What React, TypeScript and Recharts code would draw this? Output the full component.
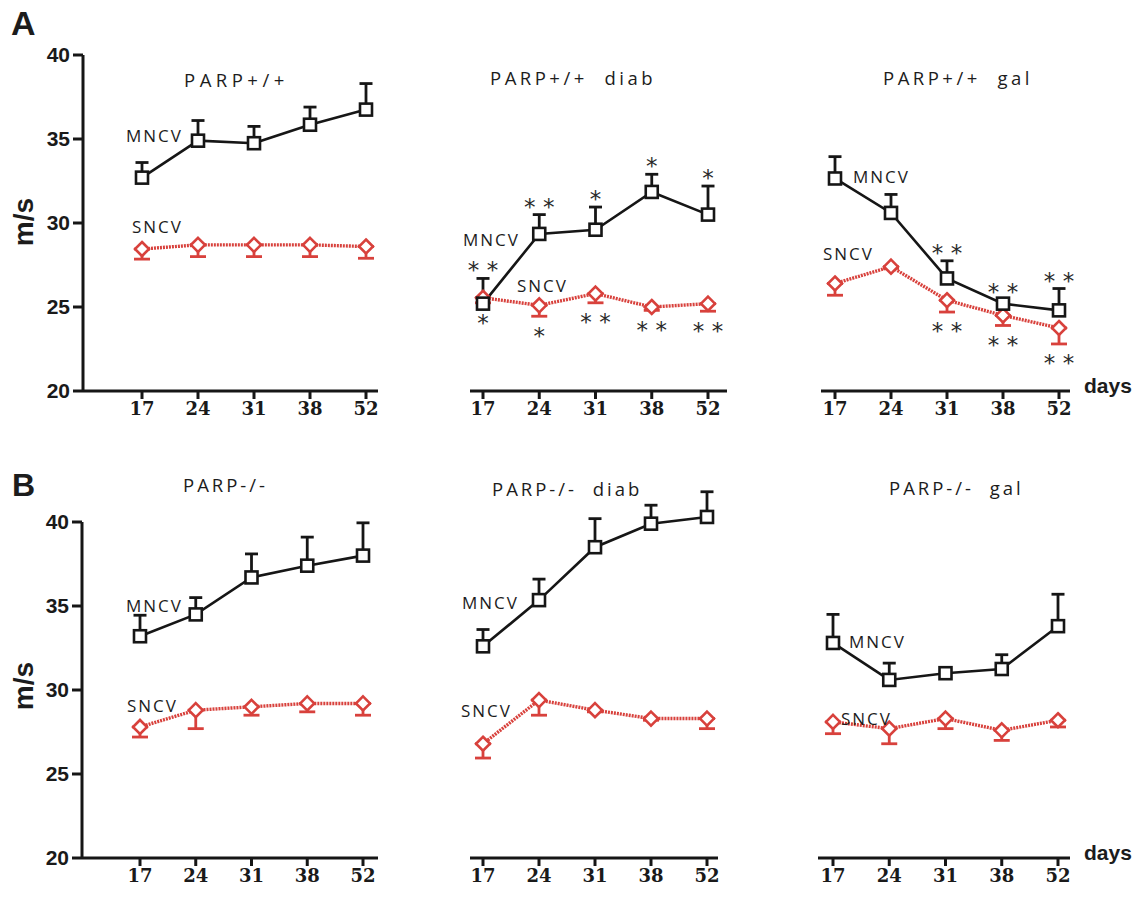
import React from 'react';
import { LineChart, Line, XAxis, YAxis, ErrorBar, LabelList } from 'recharts';

// ---------- data ----------
const days = ['17', '24', '31', '38', '52'];
const yTicks = [20, 25, 30, 35, 40];

// A: PARP+/+
const a1Mncv = [32.7, 34.9, 34.75, 35.85, 36.75];
const a1MncvErr = [0.9, 1.2, 1.0, 1.05, 1.55];
const a1Sncv = [28.45, 28.7, 28.7, 28.7, 28.6];
const a1SncvErr = [0.6, 0.7, 0.7, 0.7, 0.7];

// A: PARP+/+ diab
const a2Mncv = [25.2, 29.35, 29.6, 31.85, 30.5];
const a2MncvErr = [1.5, 1.15, 1.35, 1.05, 1.7];
const a2Sncv = [25.55, 25.1, 25.8, 25.0, 25.2];
const a2SncvErr = [0.3, 0.65, 0.55, 0.2, 0.45];
const a2MncvSig = ['* *', '* *', '*', '*', '*'];
const a2SncvSig = ['*', '*', '* *', '* *', '* *'];

// A: PARP+/+ gal
const a3Mncv = [32.65, 30.6, 26.7, 25.2, 24.8];
const a3MncvErr = [1.3, 1.1, 1.05, 0.2, 1.3];
const a3Sncv = [26.4, 27.4, 25.4, 24.5, 23.75];
const a3SncvErr = [0.7, 0.1, 0.7, 0.6, 0.95];
const a3MncvSig = ['', '', '* *', '* *', '* *'];
const a3SncvSig = ['', '', '* *', '* *', '* *'];

// B: PARP-/-
const b1Mncv = [33.2, 34.5, 36.7, 37.4, 38.0];
const b1MncvErr = [1.25, 1.0, 1.4, 1.7, 1.95];
const b1Sncv = [27.8, 28.8, 29.0, 29.2, 29.2];
const b1SncvErr = [0.6, 1.1, 0.5, 0.5, 0.7];

// B: PARP-/- diab
const b2Mncv = [32.6, 35.35, 38.5, 39.9, 40.3];
const b2MncvErr = [1.0, 1.25, 1.7, 1.1, 1.5];
const b2Sncv = [26.8, 29.4, 28.8, 28.3, 28.3];
const b2SncvErr = [0.85, 0.9, 0.1, 0.1, 0.6];

// B: PARP-/- gal
const b3Mncv = [32.8, 30.6, 31.0, 31.25, 33.8];
const b3MncvErr = [1.7, 1.0, 0.25, 0.85, 1.9];
const b3Sncv = [28.1, 27.7, 28.3, 27.6, 28.2];
const b3SncvErr = [0.7, 0.9, 0.6, 0.6, 0.4];

const noSig = ['', '', '', '', ''];

// ---------- styles / layout ----------
const BLACK = '#161616';
const RED = '#d8413c';
const PXU = 16.8; // px per m/s
const PLOT_H = 336; // 20..40

function buildRows(m: number[], me: number[], s: number[], se: number[], ms: string[], ss: string[]) {
  return days.map((day, i) => ({
    day,
    m: m[i],
    s: s[i],
    mErr: [0, me[i]],
    sErr: [se[i], 0],
    mTop: m[i] + me[i],
    sLow: Math.min(m[i], s[i] - se[i]),
    mSig: ms[i],
    sSig: ss[i],
  }));
}

const panels = [
  { id: 'a1', data: buildRows(a1Mncv, a1MncvErr, a1Sncv, a1SncvErr, noSig, noSig), left: 0, top: 0, width: 380, height: 440, y40: 55, axisL: 83, axisR: 378, padL: 59, padR: 12, showY: true },
  { id: 'a2', data: buildRows(a2Mncv, a2MncvErr, a2Sncv, a2SncvErr, a2MncvSig, a2SncvSig), left: 380, top: 0, width: 380, height: 440, y40: 55, axisL: 470, axisR: 727, padL: 13, padR: 19, showY: false },
  { id: 'a3', data: buildRows(a3Mncv, a3MncvErr, a3Sncv, a3SncvErr, a3MncvSig, a3SncvSig), left: 760, top: 0, width: 378, height: 440, y40: 55, axisL: 821, axisR: 1070, padL: 14, padR: 11, showY: false },
  { id: 'b1', data: buildRows(b1Mncv, b1MncvErr, b1Sncv, b1SncvErr, noSig, noSig), left: 0, top: 460, width: 380, height: 438, y40: 522, axisL: 82, axisR: 378, padL: 58, padR: 15, showY: true },
  { id: 'b2', data: buildRows(b2Mncv, b2MncvErr, b2Sncv, b2SncvErr, noSig, noSig), left: 380, top: 460, width: 380, height: 438, y40: 522, axisL: 470, axisR: 718, padL: 13, padR: 11, showY: false },
  { id: 'b3', data: buildRows(b3Mncv, b3MncvErr, b3Sncv, b3SncvErr, noSig, noSig), left: 760, top: 460, width: 378, height: 438, y40: 522, axisL: 818, axisR: 1070, padL: 15, padR: 12, showY: false },
];

const TITLE = { size: 18.5, weight: 400, family: 'Open Sans', ls: 3.5 };
const SER = { size: 17, weight: 400, family: 'Open Sans', ls: 2 };

const texts = [
  { t: 'A', x: 11, y: 35, size: 34, weight: 700, family: 'Liberation Sans', ls: 0 },
  { t: 'B', x: 12, y: 496, size: 32, weight: 700, family: 'Liberation Sans', ls: 0 },
  { t: 'PARP+/+', x: 184, y: 87, ...TITLE, ls: 4.5 },
  { t: 'PARP+/+  diab', x: 490, y: 85, ...TITLE },
  { t: 'PARP+/+  gal', x: 883, y: 85, ...TITLE },
  { t: 'PARP-/-', x: 183, y: 492, ...TITLE, ls: 3 },
  { t: 'PARP-/-  diab', x: 492, y: 496, ...TITLE, ls: 3 },
  { t: 'PARP-/-  gal', x: 889, y: 495, ...TITLE, ls: 3 },
  { t: 'MNCV', x: 126, y: 142, ...SER },
  { t: 'SNCV', x: 132, y: 233, ...SER },
  { t: 'MNCV', x: 463, y: 246, ...SER },
  { t: 'SNCV', x: 517, y: 292, ...SER },
  { t: 'MNCV', x: 853, y: 183, ...SER },
  { t: 'SNCV', x: 823, y: 260, ...SER },
  { t: 'MNCV', x: 126, y: 612, ...SER },
  { t: 'SNCV', x: 127, y: 712, ...SER },
  { t: 'MNCV', x: 462, y: 609, ...SER },
  { t: 'SNCV', x: 461, y: 717, ...SER },
  { t: 'MNCV', x: 849, y: 648, ...SER },
  { t: 'SNCV', x: 841, y: 725, ...SER },
  { t: 'days', x: 1084, y: 393, size: 21, weight: 700, family: 'Liberation Sans', ls: 0 },
  { t: 'days', x: 1084, y: 860, size: 21, weight: 700, family: 'Liberation Sans', ls: 0 },
];

const yLabels = [
  { x: 33, y: 222 },
  { x: 33, y: 686 },
];

// ---------- markers ----------
const squareDot = (p: any) => {
  if (p == null || p.cx == null || p.cy == null) return <g key={`sq-${p?.index}`} />;
  return (
    <rect key={`sq-${p.index}`} x={p.cx - 6} y={p.cy - 6} width={12} height={12}
      fill="#fff" stroke={BLACK} strokeWidth={2.6} />
  );
};

const diamondDot = (p: any) => {
  if (p == null || p.cx == null || p.cy == null) return <g key={`dm-${p?.index}`} />;
  const r = 7;
  return (
    <path key={`dm-${p.index}`}
      d={`M${p.cx},${p.cy - r} L${p.cx + r},${p.cy} L${p.cx},${p.cy + r} L${p.cx - r},${p.cy} Z`}
      fill="#fff" stroke={RED} strokeWidth={2.6} />
  );
};

const starStyle = { fill: '#2a2a2a', fontSize: 23, fontFamily: 'DejaVu Sans' };

function Panel({ p }: { p: any }) {
  const yMax = p.showY ? 40 : 42.5;
  const extra = (yMax - 40) * PXU;
  const plotTop = p.y40 - extra;
  const plotH = PLOT_H + extra;
  const yAxisW = p.showY ? 60 : 0;
  const margin = {
    top: plotTop - p.top,
    left: p.axisL - p.left - yAxisW,
    right: p.left + p.width - p.axisR,
    bottom: p.height - (plotTop - p.top) - plotH - 30,
  };
  return (
    <div style={{ position: 'absolute', left: p.left, top: p.top }}>
      <LineChart width={p.width} height={p.height} data={p.data} margin={margin}>
        <XAxis
          dataKey="day"
          interval={0}
          height={30}
          padding={{ left: p.padL, right: p.padR }}
          axisLine={{ stroke: BLACK, strokeWidth: 3 }}
          tickLine={{ stroke: BLACK, strokeWidth: 3 }}
          tickSize={8}
          tickMargin={3}
          tick={{ fill: '#1a1a1a', fontSize: 18, fontWeight: 700, fontFamily: 'DejaVu Serif' }}
        />
        {p.showY ? (
          <YAxis
            type="number"
            domain={[20, 40]}
            ticks={yTicks}
            interval={0}
            width={60}
            axisLine={{ stroke: BLACK, strokeWidth: 3 }}
            tickLine={{ stroke: BLACK, strokeWidth: 3 }}
            tickSize={10}
            tickMargin={3}
            tick={{ fill: '#1a1a1a', fontSize: 21, fontWeight: 700, fontFamily: 'Liberation Sans' }}
          />
        ) : (
          <YAxis type="number" domain={[20, 42.5]} hide />
        )}
        {/* error bars first (beneath markers) */}
        <Line dataKey="s" stroke="none" dot={false} activeDot={false} isAnimationActive={false}>
          <ErrorBar dataKey="sErr" direction="y" width={8} stroke={RED} strokeWidth={2.8} isAnimationActive={false} />
        </Line>
        <Line dataKey="m" stroke="none" dot={false} activeDot={false} isAnimationActive={false}>
          <ErrorBar dataKey="mErr" direction="y" width={6.5} stroke={BLACK} strokeWidth={2.8} isAnimationActive={false} />
        </Line>
        {/* significance marks */}
        <Line dataKey="mTop" stroke="none" dot={false} activeDot={false} isAnimationActive={false}>
          <LabelList dataKey="mSig" position="top" offset={0} {...starStyle} />
        </Line>
        <Line dataKey="sLow" stroke="none" dot={false} activeDot={false} isAnimationActive={false}>
          <LabelList dataKey="sSig" position="bottom" offset={11} {...starStyle} />
        </Line>
        {/* series */}
        <Line dataKey="s" type="linear" stroke={RED} strokeWidth={3.4} strokeDasharray="2 1"
          dot={diamondDot} activeDot={false} isAnimationActive={false} />
        <Line dataKey="m" type="linear" stroke={BLACK} strokeWidth={2.6}
          dot={squareDot} activeDot={false} isAnimationActive={false} />
      </LineChart>
    </div>
  );
}

export default function App() {
  return (
    <div style={{ position: 'absolute', left: 0, top: 0, width: 1138, height: 898, background: '#fff', overflow: 'hidden' }}>
      {panels.map((p) => (
        <Panel key={p.id} p={p} />
      ))}
      <svg width={1138} height={898} style={{ position: 'absolute', left: 0, top: 0, pointerEvents: 'none' }}>
        {texts.map((t, i) => (
          <text key={i} x={t.x} y={t.y} fontSize={t.size} fontWeight={t.weight} fontFamily={t.family}
            letterSpacing={t.ls} fill="#1c1c1c" xmlSpace="preserve" style={{ whiteSpace: 'pre' }}>
            {t.t}
          </text>
        ))}
        {yLabels.map((l, i) => (
          <text key={`yl${i}`} x={l.x} y={l.y} fontSize={28} fontWeight={700} fontFamily="Liberation Sans"
            fill="#1c1c1c" textAnchor="middle" transform={`rotate(-90 ${l.x} ${l.y})`}>
            m/s
          </text>
        ))}
      </svg>
    </div>
  );
}
